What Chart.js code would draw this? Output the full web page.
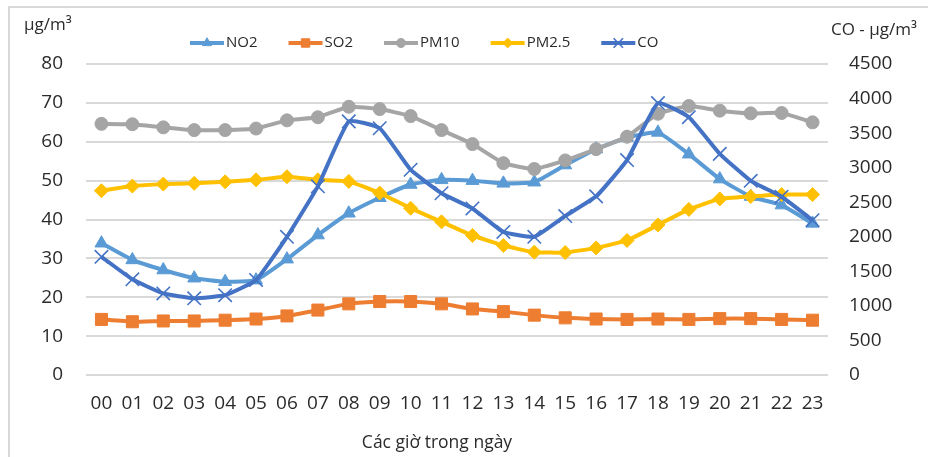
<!DOCTYPE html>
<html>
<head>
<meta charset="utf-8">
<script src="https://cdn.jsdelivr.net/npm/chart.js@4/dist/chart.umd.min.js"></script>
<style>
  html, body { margin: 0; padding: 0; background: #fff; overflow: hidden; }
  #wrap { position: relative; width: 928px; height: 457px; overflow: hidden; }
  #frame { position: absolute; left: 8px; top: 6px; width: 1000px; height: 1000px;
           border: 2px solid #d9d9d9; box-sizing: border-box; }
  #c { position: absolute; left: 0; top: 0; }
</style>
</head>
<body>
<div id="wrap"><div id="frame"></div><canvas id="c" width="928" height="457"></canvas></div>
<script>
// Hourly mean concentrations over a day
const hours = ['00','01','02','03','04','05','06','07','08','09','10','11',
               '12','13','14','15','16','17','18','19','20','21','22','23'];

const no2  = [33.9, 29.6, 27.0, 24.9, 24.0, 24.4, 29.8, 36.0, 41.6, 45.6, 49.0, 50.2,
              50.0, 49.3, 49.6, 54.0, 58.1, 61.1, 62.4, 56.8, 50.4, 45.9, 43.7, 39.0];
const so2  = [14.3, 13.7, 13.9, 13.9, 14.1, 14.4, 15.2, 16.7, 18.3, 18.9, 18.9, 18.3,
              17.0, 16.3, 15.4, 14.7, 14.4, 14.3, 14.4, 14.3, 14.5, 14.5, 14.3, 14.1];
const pm10 = [64.6, 64.5, 63.7, 63.0, 63.0, 63.4, 65.5, 66.3, 69.0, 68.4, 66.6, 63.0,
              59.4, 54.5, 53.0, 55.2, 58.1, 61.3, 67.2, 69.2, 68.0, 67.3, 67.4, 65.0];
const pm25 = [47.4, 48.6, 49.1, 49.3, 49.7, 50.2, 51.0, 50.2, 49.8, 46.8, 42.9, 39.4,
              35.9, 33.3, 31.6, 31.5, 32.7, 34.6, 38.6, 42.6, 45.3, 45.9, 46.4, 46.4];
const co   = [1710, 1385, 1180, 1110, 1155, 1375, 2000, 2730, 3670, 3570, 2970, 2630,
              2410, 2070, 2000, 2300, 2585, 3110, 3935, 3730, 3200, 2810, 2580, 2240];

const seriesNames = ['NO2', 'SO2', 'PM10', 'PM2.5', 'CO'];
const leftUnit  = 'µg/m³';
const rightUnit = 'CO - µg/m³';
const xTitle    = 'Các giờ trong ngày';

const FONT = '"Open Sans", "Noto Sans", sans-serif';
const TEXT = '#2b2b2b';
const GRID = '#d9d9d9';

function series(label, data, color, style, radius, order, axis, extra) {
  return Object.assign({
    label, data, order,
    yAxisID: axis,
    borderColor: color,
    backgroundColor: color,
    pointBackgroundColor: color,
    pointBorderColor: color,
    borderWidth: 4,
    pointStyle: style,
    pointRadius: radius,
    pointHoverRadius: radius,
    pointBorderWidth: 1,
    tension: 0.13,
    fill: false
  }, extra || {});
}

const datasets = [
  series(seriesNames[0], no2,  '#5b9bd5', 'triangle', 7.5, 5, 'y'),
  series(seriesNames[1], so2,  '#ed7d31', 'rect',     8.5, 4, 'y'),
  series(seriesNames[2], pm10, '#a5a5a5', 'circle',   6.5, 3, 'y'),
  series(seriesNames[3], pm25, '#ffc000', 'rectRot',  7,   2, 'y'),
  series(seriesNames[4], co,   '#4472c4', 'crossRot', 9.5, 1, 'y2', { pointBorderWidth: 1.6 })
];

// Legend row, unit captions and x-axis title drawn onto the canvas
const decorations = {
  id: 'decorations',
  afterDraw(chart) {
    const ctx = chart.ctx;
    ctx.save();
    ctx.fillStyle = TEXT;
    ctx.textBaseline = 'middle';

    ctx.font = '17px ' + FONT;
    ctx.textAlign = 'left';
    ctx.fillText(leftUnit, 24, 25);
    ctx.fillText(rightUnit, 831, 30);

    ctx.font = '17.5px ' + FONT;
    ctx.textAlign = 'center';
    ctx.fillText(xTitle, 437, 443);

    // legend
    ctx.font = '15px ' + FONT;
    ctx.textAlign = 'left';
    let x = 190;
    const y = 43;
    chart.data.datasets.forEach(ds => {
      ctx.strokeStyle = ds.borderColor;
      ctx.lineWidth = 4;
      ctx.beginPath();
      ctx.moveTo(x, y);
      ctx.lineTo(x + 34, y);
      ctx.stroke();
      ctx.fillStyle = ds.pointBackgroundColor;
      ctx.strokeStyle = ds.pointBorderColor;
      ctx.lineWidth = ds.pointBorderWidth;
      Chart.helpers.drawPoint(ctx, {
        pointStyle: ds.pointStyle, radius: ds.pointRadius * 0.7, rotation: 0,
        borderWidth: ds.pointBorderWidth
      }, x + 17, y);
      ctx.fillStyle = TEXT;
      ctx.fillText(ds.label, x + 36, y);
      x += 36 + ctx.measureText(ds.label).width + 31;
    });
    ctx.restore();
  }
};

new Chart(document.getElementById('c'), {
  type: 'line',
  data: { labels: hours, datasets },
  plugins: [decorations],
  options: {
    responsive: false,
    animation: false,
    layout: { padding: { top: 64, left: 0, right: 0, bottom: 0 } },
    plugins: { legend: { display: false }, tooltip: { enabled: false } },
    scales: {
      x: {
        offset: true,
        grid: { display: false, drawTicks: false },
        border: { display: false },
        ticks: { color: TEXT, font: { family: FONT, size: 19 }, padding: 17, maxRotation: 0, autoSkip: false },
        afterFit(s) { s.height = 82; }
      },
      y: {
        position: 'left',
        min: 0, max: 80,
        grid: { color: GRID, lineWidth: 2, drawTicks: false },
        border: { display: false },
        ticks: { stepSize: 10, color: TEXT, font: { family: FONT, size: 19 }, padding: 23 },
        afterFit(s) { s.width = 86; }
      },
      y2: {
        position: 'right',
        min: 0, max: 4500,
        grid: { display: false, drawTicks: false },
        border: { display: false },
        ticks: { stepSize: 500, color: TEXT, font: { family: FONT, size: 19 }, padding: 21,
                 callback: v => String(v) },
        afterFit(s) { s.width = 100; }
      }
    }
  }
});
</script>
</body>
</html>
